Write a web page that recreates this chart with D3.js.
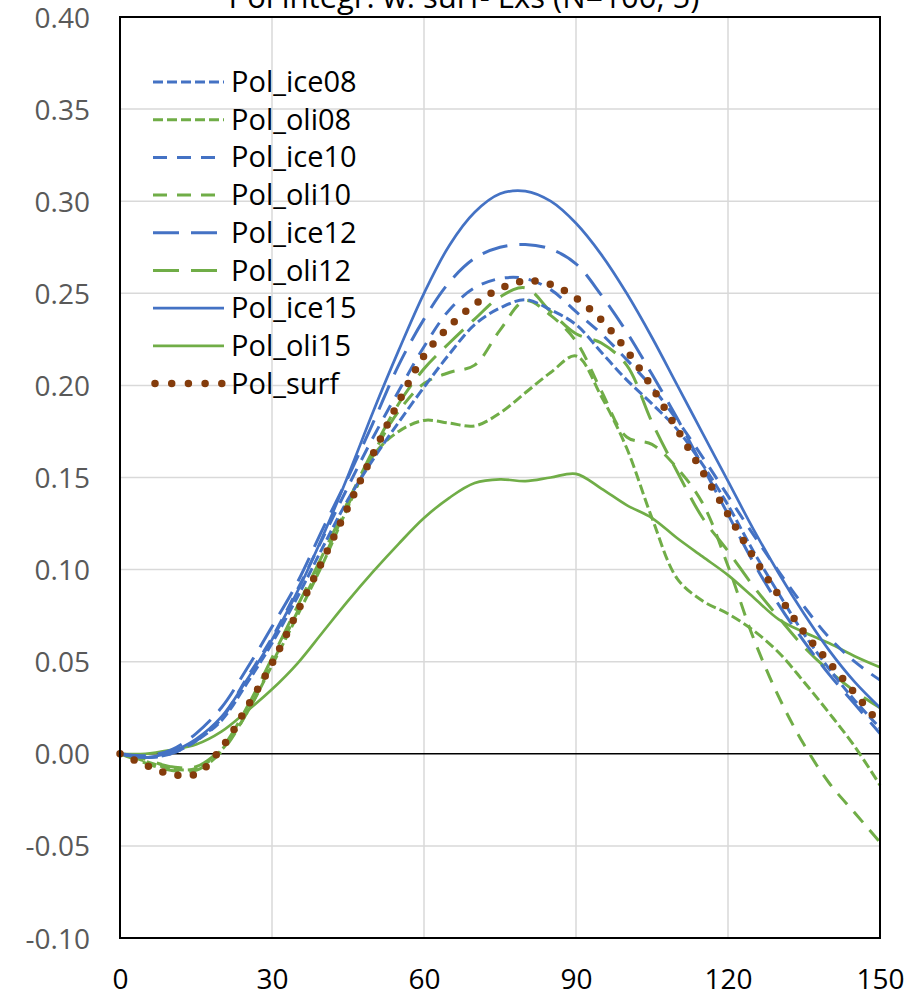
<!DOCTYPE html>
<html>
<head>
<meta charset="utf-8">
<script src="https://cdn.jsdelivr.net/npm/d3@7"></script>
<style>
  html, body { margin: 0; padding: 0; background: #fff; }
  svg { display: block; }
  text { font-family: "Open Sans", "Noto Sans", sans-serif; }
</style>
</head>
<body>
<svg id="chart" width="907" height="995"></svg>
<script>
// ---------------- DATA ----------------
const title = "Pol integr. w. surf- Lxs (N=100, 5)";
const xValues = [0,5,10,15,20,25,30,35,40,45,50,55,60,65,70,75,80,85,90,95,100,105,110,115,120,125,130,135,140,145,150];
const xTicks = [0,30,60,90,120,150];
const yTicks = [-0.10,-0.05,0.00,0.05,0.10,0.15,0.20,0.25,0.30,0.35,0.40];

const pol_ice08 = [0,-0.002,0.000,0.007,0.018,0.038,0.060,0.085,0.112,0.138,0.160,0.180,0.199,0.217,0.233,0.242,0.2465,0.241,0.233,0.218,0.203,0.190,0.176,0.157,0.135,0.110,0.087,0.065,0.046,0.029,0.014];
const pol_oli08 = [0,-0.004,-0.008,-0.008,0.002,0.022,0.048,0.075,0.103,0.134,0.162,0.175,0.181,0.1795,0.178,0.185,0.196,0.207,0.216,0.194,0.166,0.128,0.095,0.083,0.076,0.067,0.055,0.039,0.022,0.004,-0.017];
const pol_ice10 = [0,-0.002,0.000,0.007,0.019,0.041,0.063,0.089,0.117,0.145,0.172,0.197,0.221,0.241,0.253,0.258,0.258,0.252,0.240,0.228,0.214,0.199,0.181,0.161,0.140,0.119,0.099,0.080,0.063,0.050,0.040];
const pol_oli10 = [0,-0.005,-0.009,-0.009,0.001,0.022,0.049,0.077,0.105,0.135,0.163,0.186,0.201,0.207,0.211,0.230,0.246,0.238,0.224,0.197,0.172,0.168,0.155,0.136,0.102,0.063,0.031,0.005,-0.016,-0.032,-0.048];
const pol_ice12 = [0,-0.001,0.002,0.011,0.025,0.046,0.069,0.093,0.122,0.150,0.180,0.211,0.236,0.256,0.269,0.275,0.2765,0.274,0.266,0.249,0.229,0.206,0.182,0.156,0.130,0.104,0.081,0.061,0.043,0.027,0.011];
const pol_oli12 = [0,-0.003,-0.007,-0.007,0.003,0.025,0.052,0.080,0.108,0.137,0.165,0.190,0.209,0.223,0.236,0.248,0.253,0.240,0.228,0.223,0.211,0.180,0.153,0.128,0.110,0.091,0.074,0.058,0.045,0.034,0.025];
const pol_ice15 = [0,-0.002,0.001,0.008,0.020,0.040,0.062,0.088,0.118,0.151,0.186,0.219,0.250,0.276,0.294,0.304,0.3055,0.300,0.288,0.271,0.250,0.226,0.200,0.174,0.148,0.122,0.098,0.076,0.056,0.039,0.025];
const pol_oli15 = [0,0.000,0.002,0.005,0.012,0.023,0.035,0.049,0.066,0.083,0.099,0.114,0.128,0.139,0.147,0.149,0.148,0.150,0.152,0.144,0.135,0.128,0.117,0.107,0.097,0.085,0.073,0.066,0.060,0.053,0.047];
const pol_surf  = [0,-0.006,-0.011,-0.011,0.003,0.025,0.049,0.077,0.105,0.134,0.163,0.191,0.216,0.232,0.244,0.2525,0.2567,0.2548,0.2475,0.2355,0.219,0.199,0.176,0.153,0.130,0.107,0.086,0.066,0.0495,0.033,0.016];

const seriesNames = ["Pol_ice08","Pol_oli08","Pol_ice10","Pol_oli10","Pol_ice12","Pol_oli12","Pol_ice15","Pol_oli15","Pol_surf"];
const seriesValues = [pol_ice08,pol_oli08,pol_ice10,pol_oli10,pol_ice12,pol_oli12,pol_ice15,pol_oli15,pol_surf];

// ---------------- STYLES ----------------
const BLUE = "#4472C4", GREEN = "#70AD47", BROWN = "#843C0C";
const styles = [
  {color: BLUE,  width: 3, dash: "10,4", cap: "butt"},
  {color: GREEN, width: 3, dash: "10,4", cap: "butt"},
  {color: BLUE,  width: 3, dash: "14,10", cap: "butt"},
  {color: GREEN, width: 3, dash: "14,10", cap: "butt"},
  {color: BLUE,  width: 3, dash: "26,12", cap: "butt"},
  {color: GREEN, width: 3, dash: "26,12", cap: "butt"},
  {color: BLUE,  width: 2.7, dash: null, cap: "butt"},
  {color: GREEN, width: 2.7, dash: null, cap: "butt"},
  {color: BROWN, width: 7.5, dash: "0,15.5", cap: "round"}
];

// ---------------- LAYOUT ----------------
const L = 120, R = 880, T = 17, B = 938;
const svg = d3.select("#chart");
svg.append("rect").attr("width", 907).attr("height", 995).attr("fill", "#fff");

const x = d3.scaleLinear().domain([0,150]).range([L,R]);
const y = d3.scaleLinear().domain([-0.10,0.40]).range([B,T]);

// grid
svg.append("g").selectAll("line").data(yTicks.filter(d => d > -0.1 && d < 0.4 && Math.abs(d) > 1e-9))
  .join("line")
  .attr("x1", L).attr("x2", R)
  .attr("y1", d => y(d)).attr("y2", d => y(d))
  .attr("stroke", "#d9d9d9").attr("stroke-width", 1.5);
svg.append("g").selectAll("line").data(xTicks.filter(d => d > 0 && d < 150))
  .join("line")
  .attr("y1", T).attr("y2", B)
  .attr("x1", d => x(d)).attr("x2", d => x(d))
  .attr("stroke", "#d9d9d9").attr("stroke-width", 1.5);

// zero line
svg.append("line").attr("x1", L).attr("x2", R).attr("y1", y(0)).attr("y2", y(0))
  .attr("stroke", "#000").attr("stroke-width", 1.6);

// series
const line = d3.line().x((d,i) => x(xValues[i])).y(d => y(d)).curve(d3.curveCatmullRom.alpha(0.5));
const order = [7,1,3,5,0,2,4,6,8];
order.forEach(k => {
  const s = styles[k];
  const p = svg.append("path").datum(seriesValues[k])
    .attr("d", line).attr("fill", "none")
    .attr("stroke", s.color).attr("stroke-width", s.width)
    .attr("stroke-linecap", s.cap).attr("stroke-linejoin", "round");
  if (s.dash) p.attr("stroke-dasharray", s.dash);
});

// frame
svg.append("rect").attr("x", L).attr("y", T).attr("width", R - L).attr("height", B - T)
  .attr("fill", "none").attr("stroke", "#000").attr("stroke-width", 2);

// y axis
const fmtY = d => d3.format(".2f")(d).replace("\u2212", "-");
const yAxis = d3.axisLeft(y).tickValues(yTicks).tickFormat(fmtY).tickSize(0).tickPadding(30);
const gy = svg.append("g").attr("transform", `translate(${L},0)`).call(yAxis);
gy.select(".domain").remove();
gy.selectAll("text").attr("font-size", 28).attr("fill", "#595959")
  .attr("font-family", "'Open Sans', sans-serif").attr("dy", "0.36em");

// x axis
const xAxis = d3.axisBottom(x).tickValues(xTicks).tickFormat(d3.format("d")).tickSize(0).tickPadding(0);
const gx = svg.append("g").attr("transform", `translate(0,${B})`).call(xAxis);
gx.select(".domain").remove();
gx.selectAll("text").attr("font-size", 28).attr("fill", "#000")
  .attr("font-family", "'Open Sans', sans-serif")
  .attr("y", 51).attr("dy", 0);

// legend
const legY0 = 82, legStep = 37.7;
const leg = svg.append("g");
seriesNames.forEach((name, i) => {
  const s = styles[i];
  const yy = legY0 + i * legStep;
  const ln = leg.append("line").attr("x1", s.cap === "round" ? 155 : 153).attr("x2", s.cap === "round" ? 222 : 224)
    .attr("y1", yy).attr("y2", yy)
    .attr("stroke", s.color).attr("stroke-width", s.width)
    .attr("stroke-linecap", s.cap);
  if (s.dash) ln.attr("stroke-dasharray", s.cap === "round" ? "0,16.7" : s.dash);
  leg.append("text").attr("x", 231).attr("y", yy + 10)
    .attr("font-size", 29).attr("fill", "#000").text(name);
});

// title (partly cut off at the top)
svg.append("text").attr("x", 464).attr("y", 8).attr("text-anchor", "middle")
  .attr("font-size", 31).attr("fill", "#000").text(title);
</script>
</body>
</html>
